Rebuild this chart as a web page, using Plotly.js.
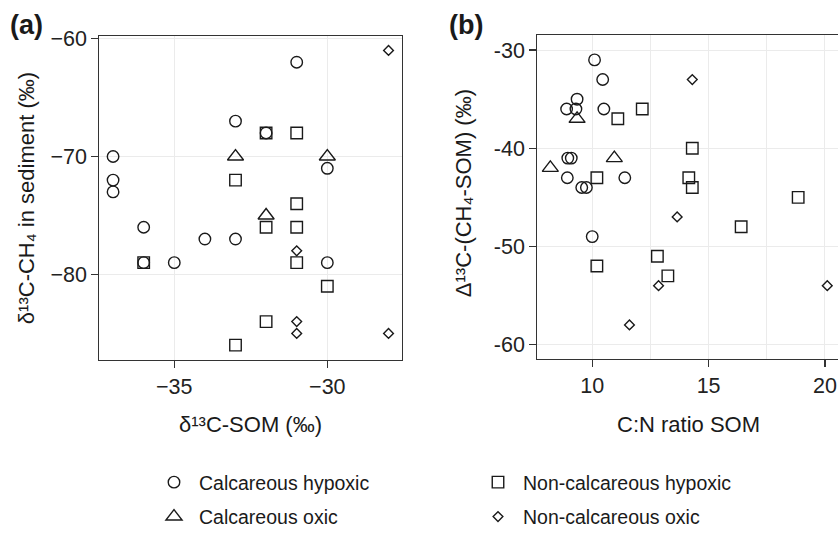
<!DOCTYPE html>
<html>
<head>
<meta charset="utf-8">
<script src="https://cdn.plot.ly/plotly-3.0.1.min.js"></script>
<style>
  html, body { margin: 0; padding: 0; overflow: hidden; background: #fff; }
  #chart { width: 850px; height: 536px; }
</style>
</head>
<body>
<div id="chart"></div>
<script>
// ---------- data ----------
const seriesNames = ["Calcareous hypoxic", "Calcareous oxic", "Non-calcareous hypoxic", "Non-calcareous oxic"];

// Panel (a): δ13C-SOM vs δ13C-CH4
const aCalcHypX = [-37, -37, -37, -36, -36, -35, -34, -33, -33, -32, -31, -30, -30];
const aCalcHypY = [-70, -72, -73, -76, -79, -79, -77, -77, -67, -68, -62, -71, -79];
const aCalcOxX  = [-33, -32, -30];
const aCalcOxY  = [-70, -75, -70];
const aNonHypX  = [-36, -33, -32, -32, -31, -31, -31, -31, -30, -32, -33];
const aNonHypY  = [-79, -72, -68, -76, -68, -74, -76, -79, -81, -84, -86];
const aNonOxX   = [-28, -31, -31, -31, -28];
const aNonOxY   = [-61, -78, -84, -85, -85];

// Panel (b): C:N ratio SOM vs Δ13C(CH4-SOM)
const bCalcHypX = [10.1, 10.45, 9.35, 8.9, 9.3, 10.5, 8.95, 9.1, 8.93, 9.55, 9.75, 11.4, 10.0];
const bCalcHypY = [-31, -33, -35, -36, -36, -36, -41, -41, -43, -44, -44, -43, -49];
const bCalcOxX  = [9.35, 8.2, 10.95];
const bCalcOxY  = [-37, -42, -41];
const bNonHypX  = [12.15, 11.1, 14.3, 14.15, 14.3, 10.2, 10.2, 12.8, 13.25, 16.4, 18.85];
const bNonHypY  = [-36, -37, -40, -43, -44, -43, -52, -51, -53, -48, -45];
const bNonOxX   = [14.3, 13.65, 12.85, 11.6, 20.1];
const bNonOxY   = [-33, -47, -54, -58, -54];

// tick labels
const aXTickVals = [-35, -30];
const aXTickText = ["\u221235", "\u221230"];
const aYTickVals = [-80, -70, -60];
const aYTickText = ["\u221280", "\u221270", "\u221260"];
const bXTickVals = [10, 15, 20];
const bXTickText = ["10", "15", "20"];
const bXMinorVals = [12.5, 17.5];
const bYTickVals = [-60, -50, -40, -30];
const bYTickText = ["-60", "-50", "-40", "-30"];

// axis titles and panel labels
const aXTitle = "\u03b4\u00b9\u00b3C-SOM (\u2030)";
const aYTitle = "\u03b4\u00b9\u00b3C-CH\u2084 in sediment (\u2030)";
const bXTitle = "C:N ratio SOM";
const bYTitle = "\u0394\u00b9\u00b3C-(CH\u2084-SOM) (\u2030)";
const panelLabels = ["(a)", "(b)"];

// ---------- layout helpers ----------
const W = 850, H = 536;
const px = v => v / W;
const py = v => 1 - v / H;

const FONT = "Liberation Sans, Arial, Helvetica, sans-serif";
const INK = "#1a1a1a";

const symbols = ["circle-open", "triangle-up-open", "square-open", "diamond-open"];
const sizes = [11.5, 14, 11.5, 7.5];
const legendIds = ["legend", "legend", "legend2", "legend2"];

const aData = [[aCalcHypX, aCalcHypY], [aCalcOxX, aCalcOxY], [aNonHypX, aNonHypY], [aNonOxX, aNonOxY]];
const bData = [[bCalcHypX, bCalcHypY], [bCalcOxX, bCalcOxY], [bNonHypX, bNonHypY], [bNonOxX, bNonOxY]];

const traces = [];
seriesNames.forEach((name, i) => {
  const marker = { symbol: symbols[i], size: sizes[i], color: INK, line: { width: 1.4, color: INK } };
  traces.push({
    type: "scatter", mode: "markers", name: name, x: aData[i][0], y: aData[i][1],
    xaxis: "x", yaxis: "y", marker: marker, legendgroup: "g" + i, legend: legendIds[i], showlegend: true
  });
  traces.push({
    type: "scatter", mode: "markers", name: name, x: bData[i][0], y: bData[i][1],
    xaxis: "x2", yaxis: "y2", marker: marker, legendgroup: "g" + i, legend: legendIds[i], showlegend: false
  });
});

const axisCommon = {
  showgrid: true, gridcolor: "#ebebeb", gridwidth: 1.1,
  zeroline: false, showline: true, mirror: true, linecolor: "#333333", linewidth: 1.1,
  ticks: "outside", ticklen: 7, tickwidth: 1.3, tickcolor: "#333333",
  tickfont: { family: FONT, size: 21.5, color: "#222222" },
  tickmode: "array", fixedrange: true
};

const titleFont = { family: FONT, size: 22, color: INK };
const labelFont = { family: FONT, size: 27, color: INK, weight: "bold" };

const layout = {
  width: W, height: H,
  margin: { l: 0, r: 0, t: 0, b: 0 },
  paper_bgcolor: "#ffffff", plot_bgcolor: "#ffffff",
  font: { family: FONT, color: INK },
  xaxis: Object.assign({}, axisCommon, {
    domain: [px(99.3), px(402.3)], range: [-37.45, -27.55], anchor: "y",
    tickvals: aXTickVals, ticktext: aXTickText
  }),
  yaxis: Object.assign({}, axisCommon, {
    domain: [py(363.3), py(36)], range: [-87.25, -59.75], anchor: "x",
    tickvals: aYTickVals, ticktext: aYTickText
  }),
  xaxis2: Object.assign({}, axisCommon, {
    domain: [px(537.3), px(840.3)], range: [7.64, 20.66], anchor: "y2",
    tickvals: bXTickVals, ticktext: bXTickText,
    minor: { tickmode: "array", tickvals: bXMinorVals, showgrid: true, gridcolor: "#ebebeb", gridwidth: 1.1, ticks: "" }
  }),
  yaxis2: Object.assign({}, axisCommon, {
    domain: [py(362.7), py(35.7)], range: [-61.5, -28.5], anchor: "x2",
    tickvals: bYTickVals, ticktext: bYTickText
  }),
  legend: {
    x: px(149), y: py(467.8), xanchor: "left", yanchor: "top",
    orientation: "v", itemwidth: 40, tracegroupgap: 6,
    font: { family: FONT, size: 19.5, color: INK }, bgcolor: "rgba(0,0,0,0)", borderwidth: 0
  },
  legend2: {
    x: px(473), y: py(467.8), xanchor: "left", yanchor: "top",
    orientation: "v", itemwidth: 40, tracegroupgap: 6,
    font: { family: FONT, size: 19.5, color: INK }, bgcolor: "rgba(0,0,0,0)", borderwidth: 0
  },
  annotations: [
    { text: panelLabels[0], x: px(26), y: py(25), xref: "paper", yref: "paper", showarrow: false,
      xanchor: "center", yanchor: "middle", font: labelFont },
    { text: panelLabels[1], x: px(466), y: py(25), xref: "paper", yref: "paper", showarrow: false,
      xanchor: "center", yanchor: "middle", font: labelFont },
    { text: aXTitle, x: px(250.8), y: py(428), xref: "paper", yref: "paper",
      showarrow: false, xanchor: "center", yanchor: "middle", font: titleFont },
    { text: bXTitle, x: px(688.8), y: py(428), xref: "paper", yref: "paper",
      showarrow: false, xanchor: "center", yanchor: "middle", font: titleFont },
    { text: aYTitle, x: px(26), y: py(200), xref: "paper", yref: "paper",
      showarrow: false, textangle: -90, xanchor: "center", yanchor: "middle", font: titleFont },
    { text: bYTitle, x: px(463), y: py(195), xref: "paper", yref: "paper",
      showarrow: false, textangle: -90, xanchor: "center", yanchor: "middle", font: titleFont }
  ]
};

Plotly.newPlot("chart", traces, layout, { displayModeBar: false, staticPlot: true });
</script>
</body>
</html>
